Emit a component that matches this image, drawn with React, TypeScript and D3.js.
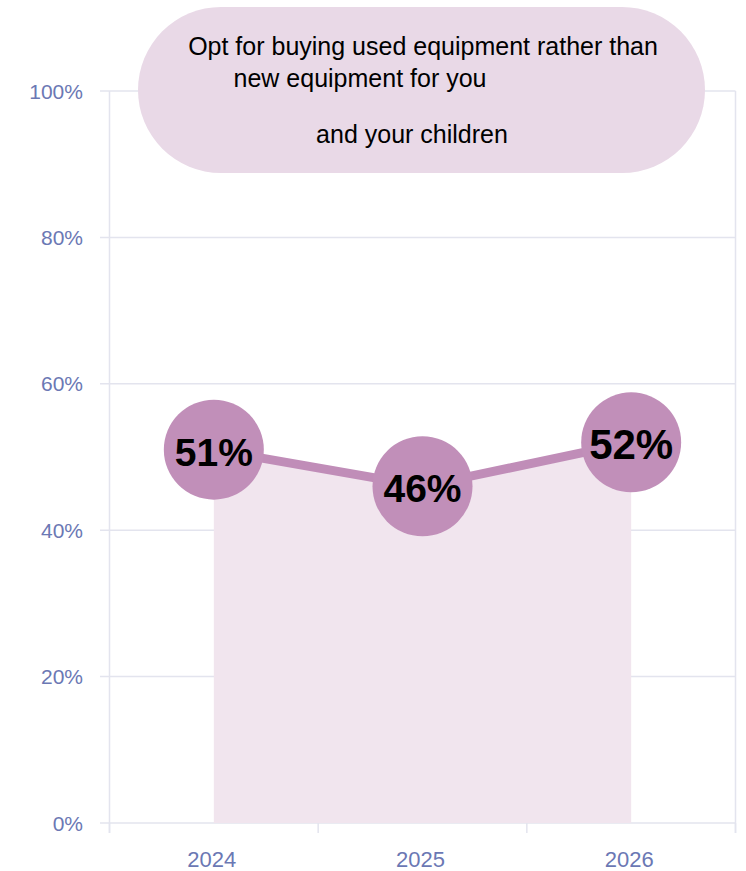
import React from "react";
import * as d3 from "d3";

const years = ["2024", "2025", "2026"];
const values = [51, 46, 52];
const valueLabels = ["51%", "46%", "52%"];
const yTicks = [0, 20, 40, 60, 80, 100];
const titleLines = [
  "Opt for buying used equipment rather than",
  "new equipment for you",
  "and your children",
];

const W = 746;
const H = 871;
const FONT = "'Liberation Sans', Arial, sans-serif";
const labelSizes = [39, 39, 42];
const titleLayout = [
  { x: 423, y: 55 },
  { x: 360, y: 87 },
  { x: 412, y: 143 },
];

export default function App() {
  const x = d3.scaleBand<string>().domain(years).range([109.5, 735.5]).padding(0);
  const y = d3.scaleLinear().domain([0, 100]).range([823, 91]);
  const cx = (d: string) => (x(d) as number) + x.bandwidth() / 2;

  const pts = years.map((yr, i) => ({ yr, v: values[i] }));
  const area = d3
    .area<{ yr: string; v: number }>()
    .x((d) => cx(d.yr))
    .y0(y(0))
    .y1((d) => y(d.v));
  const line = d3
    .line<{ yr: string; v: number }>()
    .x((d) => cx(d.yr))
    .y((d) => y(d.v));

  const gridColor = "#e3e4ee";
  const tickColor = "#6b78b4";
  const boundaries = [...years.map((d) => x(d) as number), x.range()[1]];

  return (
    <svg
      width={W}
      height={H}
      style={{ position: "absolute", left: 0, top: 0, background: "#fff" }}
      fontFamily={FONT}
    >
      {/* horizontal grid */}
      {yTicks.map((t) => (
        <line key={t} x1={100} x2={735.5} y1={y(t)} y2={y(t)} stroke={gridColor} strokeWidth={1.5} />
      ))}
      {/* vertical frame lines */}
      <line x1={109.5} x2={109.5} y1={y(100)} y2={833} stroke={gridColor} strokeWidth={1.5} />
      <line x1={735.5} x2={735.5} y1={y(100)} y2={833} stroke={gridColor} strokeWidth={1.5} />
      {boundaries.map((b, i) => (
        <line key={i} x1={b} x2={b} y1={823} y2={833} stroke={gridColor} strokeWidth={1.5} />
      ))}
      {/* y tick labels */}
      {yTicks.map((t) => (
        <text key={t} x={83} y={y(t) + 7.5} textAnchor="end" fontSize={21} fill={tickColor}>
          {t}%
        </text>
      ))}
      {/* x tick labels */}
      {years.map((yr) => (
        <text key={yr} x={cx(yr) - 2} y={867} textAnchor="middle" fontSize={22} fill={tickColor}>
          {yr}
        </text>
      ))}
      {/* area + line */}
      <path d={area(pts) as string} fill="#f1e5ee" />
      <path d={line(pts) as string} fill="none" stroke="#c08db8" strokeWidth={9} />
      {pts.map((p, i) => (
        <g key={p.yr}>
          <circle cx={cx(p.yr)} cy={y(p.v)} r={50} fill="#c18fb9" />
          <text
            x={cx(p.yr)}
            y={y(p.v) + 2 + 0.358 * labelSizes[i]}
            textAnchor="middle"
            fontSize={labelSizes[i]}
            fontWeight="bold"
            fill="#000"
          >
            {valueLabels[i]}
          </text>
        </g>
      ))}
      {/* title pill */}
      <rect x={138} y={7} width={567} height={166} rx={83} ry={83} fill="#e9d9e7" />
      {titleLines.map((t, i) => (
        <text
          key={i}
          x={titleLayout[i].x}
          y={titleLayout[i].y}
          textAnchor="middle"
          fontSize={25}
          fill="#000"
        >
          {t}
        </text>
      ))}
    </svg>
  );
}
